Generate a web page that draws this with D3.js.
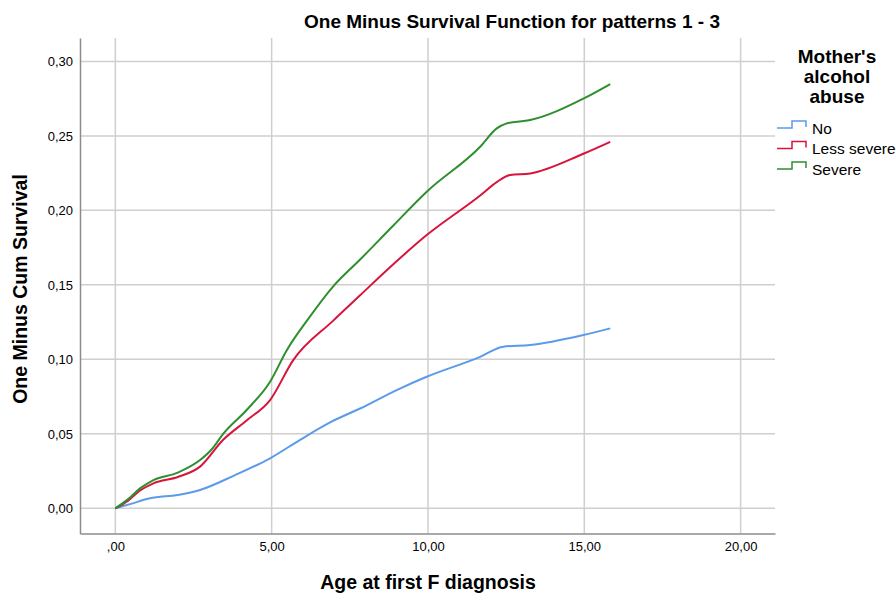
<html>
<head>
    <title>One Minus Survival</title>
    <script src="https://d3js.org/d3.v7.min.js"></script>
    <style>
        body { margin: 0; background: #fff; }
        text { font-family: "Liberation Sans", Arial, sans-serif; fill: #000; }
    </style>
</head>
<body>
    <svg id="chart" width="896" height="594"></svg>
    <script>
        // values
        const groups = ["No", "Less severe", "Severe"];
        const colors = ["#5b9bea", "#d8143c", "#2f8f2f"];

        const noAge = [0, 0.5, 1.11, 2.0, 2.71, 3.8, 4.95, 5.91, 6.9, 7.83, 9.0, 9.96, 11.67, 12.41, 13.27, 14.97, 15.83];
        const noVal = [0, 0.003, 0.0067, 0.009, 0.0123, 0.022, 0.0336, 0.046, 0.058, 0.067, 0.0794, 0.0883, 0.1017, 0.1085, 0.1096, 0.1163, 0.1208];

        const lessAge = [0, 0.4, 0.79, 1.22, 2.0, 2.71, 3.45, 4.2, 4.95, 5.69, 6.97, 7.83, 8.9, 9.96, 11.67, 12.2, 12.63, 13.27, 14.97, 15.83];
        const lessVal = [0, 0.005, 0.012, 0.0168, 0.021, 0.028, 0.046, 0.059, 0.0727, 0.0995, 0.126, 0.143, 0.164, 0.1834, 0.210, 0.219, 0.2237, 0.2248, 0.238, 0.246];

        const sevAge = [0, 0.4, 0.79, 1.22, 2.0, 2.71, 3.1, 3.45, 4.2, 4.95, 5.48, 6.2, 6.97, 7.83, 8.9, 9.96, 11.67, 12.2, 12.52, 13.27, 14.97, 15.83];
        const sevVal = [0, 0.006, 0.0134, 0.019, 0.024, 0.0324, 0.04, 0.050, 0.066, 0.085, 0.106, 0.128, 0.149, 0.167, 0.19, 0.2125, 0.2427, 0.255, 0.2584, 0.2606, 0.275, 0.2848];

        const xTicks = [0, 5, 10, 15, 20];
        const yTicks = [0, 0.05, 0.10, 0.15, 0.20, 0.25, 0.30];

        const series = [
            d3.zip(noAge, noVal),
            d3.zip(lessAge, lessVal),
            d3.zip(sevAge, sevVal)
        ];

        const svg = d3.select("#chart");
        const plot = {left: 80, right: 775, top: 38, bottom: 533.5};

        const x = d3.scaleLinear().domain([-1.13, 21.1]).range([plot.left, plot.right]);
        const y = d3.scaleLinear().domain([-0.0169, 0.3157]).range([plot.bottom, plot.top]);
        const comma = d => d3.format(".2f")(d).replace(".", ",");

        // grid
        svg.append("g").selectAll("line").data(yTicks).join("line")
            .attr("x1", plot.left).attr("x2", plot.right)
            .attr("y1", d => y(d)).attr("y2", d => y(d))
            .attr("stroke", "#cfcfcf").attr("stroke-width", 1.5);
        svg.append("g").selectAll("line").data(xTicks).join("line")
            .attr("x1", d => x(d)).attr("x2", d => x(d))
            .attr("y1", plot.top).attr("y2", plot.bottom)
            .attr("stroke", "#cfcfcf").attr("stroke-width", 1.5);

        // axes
        const yAxis = svg.append("g").attr("transform", `translate(${plot.left},0)`)
            .call(d3.axisLeft(y).tickValues(yTicks).tickSize(0).tickPadding(7).tickFormat(comma));
        const xAxis = svg.append("g").attr("transform", `translate(0,${plot.bottom})`)
            .call(d3.axisBottom(x).tickValues(xTicks).tickSize(0).tickPadding(8)
                .tickFormat(d => d === 0 ? ",00" : comma(d)));
        [xAxis, yAxis].forEach(a => {
            a.select(".domain").attr("stroke", "#8c8c8c").attr("stroke-width", 1.5);
            a.selectAll("text").style("font-size", "13px").attr("fill", "#000");
        });

        // curves
        const line = d3.line().x(d => x(d[0])).y(d => y(d[1])).curve(d3.curveMonotoneX);
        series.forEach((s, i) => {
            svg.append("path").datum(s)
                .attr("d", line)
                .attr("fill", "none")
                .attr("stroke", colors[i])
                .attr("stroke-width", 2);
        });

        // title and axis labels
        svg.append("text").attr("x", 512).attr("y", 28).attr("text-anchor", "middle")
            .style("font-size", "19px").style("font-weight", "bold")
            .text("One Minus Survival Function for patterns 1 - 3");
        svg.append("text").attr("x", 428).attr("y", 589).attr("text-anchor", "middle")
            .style("font-size", "19.5px").style("font-weight", "bold")
            .text("Age at first F diagnosis");
        svg.append("text").attr("transform", "translate(27,289) rotate(-90)").attr("text-anchor", "middle")
            .style("font-size", "19.5px").style("font-weight", "bold")
            .text("One Minus Cum Survival");

        // legend
        const lt = svg.append("text").attr("text-anchor", "middle")
            .style("font-size", "19px").style("font-weight", "bold");
        ["Mother's", "alcohol", "abuse"].forEach((t, i) => {
            lt.append("tspan").attr("x", 837).attr("y", 63 + i * 20).text(t);
        });
        const leg = svg.append("g").selectAll("g").data(groups).join("g")
            .attr("transform", (d, i) => `translate(777,${128 + i * 20.5})`);
        leg.append("path")
            .attr("d", "M0,0H15V-7H29V-1")
            .attr("fill", "none")
            .attr("stroke", (d, i) => colors[i])
            .attr("stroke-width", 1.5);
        leg.append("text").attr("x", 35).attr("y", 5.5)
            .style("font-size", "15.5px")
            .text(d => d);
    </script>
</body>
</html>
